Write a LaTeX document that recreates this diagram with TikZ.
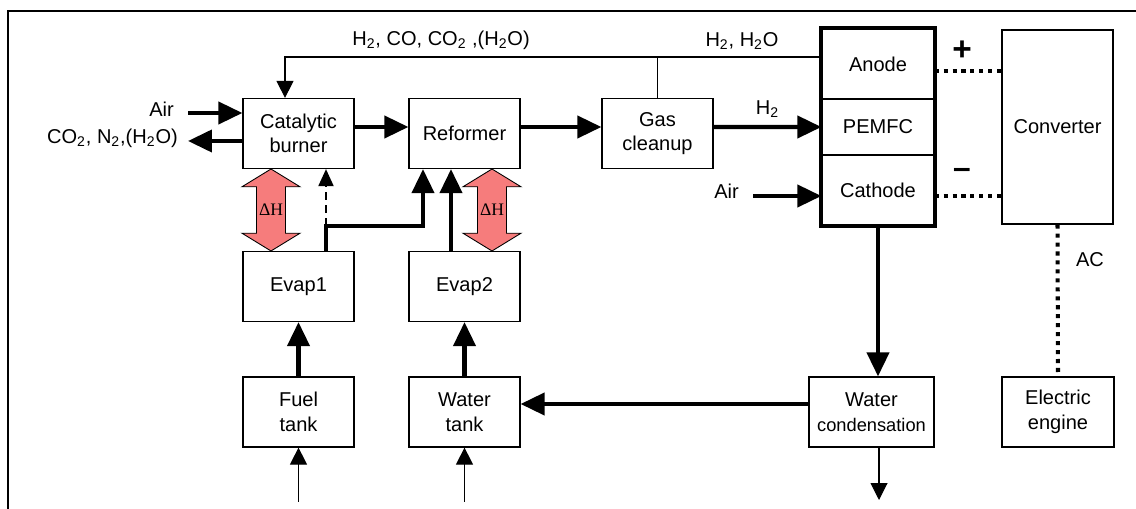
\documentclass[tikz,border=0pt]{standalone}
\usepackage{fontspec}
\setmainfont{Liberation Sans}
\newfontfamily\deltafont{Liberation Serif}
\usetikzlibrary{arrows.meta,calc,shapes.arrows}
\definecolor{heatpink}{RGB}{246,124,124}

\begin{document}
\begin{tikzpicture}[x=0.02cm,y=-0.02cm,
    font=\fontsize{11.4}{14}\selectfont,
    box/.style={draw,line width=0.7pt,inner sep=0pt,align=center,minimum width=2.22cm,minimum height=1.4cm},
    flow/.style={line width=2.3pt,-{Triangle[length=0.48cm,width=0.44cm]}},
    feed/.style={line width=0.6pt,-{Triangle[length=0.34cm,width=0.34cm]}},
    wire/.style={line width=2.3pt,dash pattern=on 2.3pt off 2.8pt},
    heat/.style={double arrow,shape border rotate=90,draw,fill=heatpink,line width=0.5pt,
      minimum height=1.64cm,minimum width=1.12cm,inner xsep=1.2pt,inner ysep=0pt,
      double arrow head extend=0.29cm,double arrow tip angle=117,
      font=\deltafont\fontsize{10}{10}\selectfont}]

\useasboundingbox (0,0) rectangle (1136,509);
\draw[line width=0.9pt] (8,509) -- (8,11) -- (1136,11);

% Fuel processing units
\node[box] (burner) at (298.5,133.5) {Catalytic\\burner};
\node[box] (reformer) at (464.5,133.5) {Reformer};
\node[box] (cleanup) at (657.5,133.5) {Gas\\cleanup};
\node[box] (evap1) at (298.5,286.5) {Evap1};
\node[box] (evap2) at (464.5,286.5) {Evap2};
\node[box] (fuel) at (298.5,412) {Fuel\\tank};
\node[box] (water) at (464.5,412) {Water\\tank};
\node[box,minimum width=2.5cm] (condense) at (871.5,412) {Water\\\fontsize{10.4}{14}\selectfont condensation};

% Fuel cell stack
\node[box,minimum width=2.24cm,minimum height=1.4cm] (anode) at (878,64) {Anode};
\node[box,minimum width=2.24cm,minimum height=1.12cm] (pemfc) at (878,127) {PEMFC};
\node[box,minimum width=2.24cm,minimum height=1.4cm] (cathode) at (878,190) {Cathode};
\draw[line width=2.3pt] (anode.north west) rectangle (cathode.south east);

% Electrical side
\node[box,minimum height=3.88cm] (converter) at (1057.5,127) {Converter};
\node[box,minimum width=2.24cm] (engine) at (1058,412) {Electric\\engine};

% Gas path
\draw[flow] ([yshift=0.13cm]burner.east) -- ([yshift=0.13cm]reformer.west);
\draw[flow] ([yshift=0.13cm]reformer.east) -- ([yshift=0.13cm]cleanup.west);
\draw[flow] ([yshift=0.13cm]cleanup.east) -- node[above=1pt] (hlabel) {H\textsubscript{2}} (pemfc.west);

\coordinate (airA) at (188,113);
\node[anchor=east] (airAlabel) at (180,109) {Air};
\draw[flow] (airA) -- (airA -| burner.west);
\coordinate (exhaust) at (188,141);
\node[anchor=east] (exhaustlabel) at (184,138) {CO\textsubscript{2}, N\textsubscript{2},(H\textsubscript{2}O)};
\draw[flow] (exhaust -| burner.west) -- (exhaust);
\coordinate (airC) at (753,196);
\node[anchor=east] (airClabel) at (745,191) {Air};
\draw[flow] (airC) -- (airC -| cathode.west);

% Anode off-gas back to burner
\coordinate (recycle) at (285,57);
\node (recyclelabel) at (441,40) {H\textsubscript{2}, CO, CO\textsubscript{2} ,(H\textsubscript{2}O)};
\node (offgaslabel) at (742,41) {H\textsubscript{2}, H\textsubscript{2}O};
\draw[feed] (anode.west |- recycle) -- (recycle) -- (recycle |- burner.north);
\draw[line width=0.6pt] (cleanup.north) -- (cleanup.north |- recycle);

% Evaporators and tanks
\draw[flow] (fuel) -- (evap1);
\draw[flow] (water) -- (evap2);
\coordinate (vapour) at (326,226);
\draw[flow] (evap1.north -| vapour) -- (vapour) -| ([xshift=-0.83cm]reformer.south);
\draw[flow] ([xshift=-0.27cm]evap2.north) -- ([xshift=-0.27cm]reformer.south);
\draw[line width=1.1pt,dash pattern=on 4.5pt off 3pt,-{Triangle[length=0.34cm,width=0.3cm]}] (vapour) -- (vapour |- burner.south);
\coordinate (fuelin) at (298.5,502);
\coordinate (waterin) at (464.5,502);
\draw[feed] (fuelin) -- (fuel);
\draw[feed] (waterin) -- (water);

% Heat exchange
\node[heat] (heatA) at (271,210) {ΔH};
\node[heat] (heatB) at (492,210) {ΔH};

% Water loop
\draw[flow] (cathode.south) -- (cathode.south |- condense.north);
\draw[flow] ([yshift=0.16cm]condense.west) -- ([yshift=0.16cm]water.east);
\coordinate (drain) at (879,500);
\draw[feed] (condense.south -| drain) -- (drain);

% Power lines
\draw[wire] ([yshift=-0.14cm]anode.east) -- ([yshift=-0.14cm]anode.east -| converter.west);
\draw[wire] ([yshift=-0.12cm]cathode.east) -- ([yshift=-0.12cm]cathode.east -| converter.west);
\draw[wire] (converter.south) -- (engine.north);
\node[font=\bfseries\fontsize{19}{19}\selectfont] (plus) at (962,51) {+};
\node[font=\bfseries\fontsize{18}{18}\selectfont] (minus) at (962,173) {–};
\node (aclabel) at (1090,260) {AC};

\end{tikzpicture}
\end{document}
